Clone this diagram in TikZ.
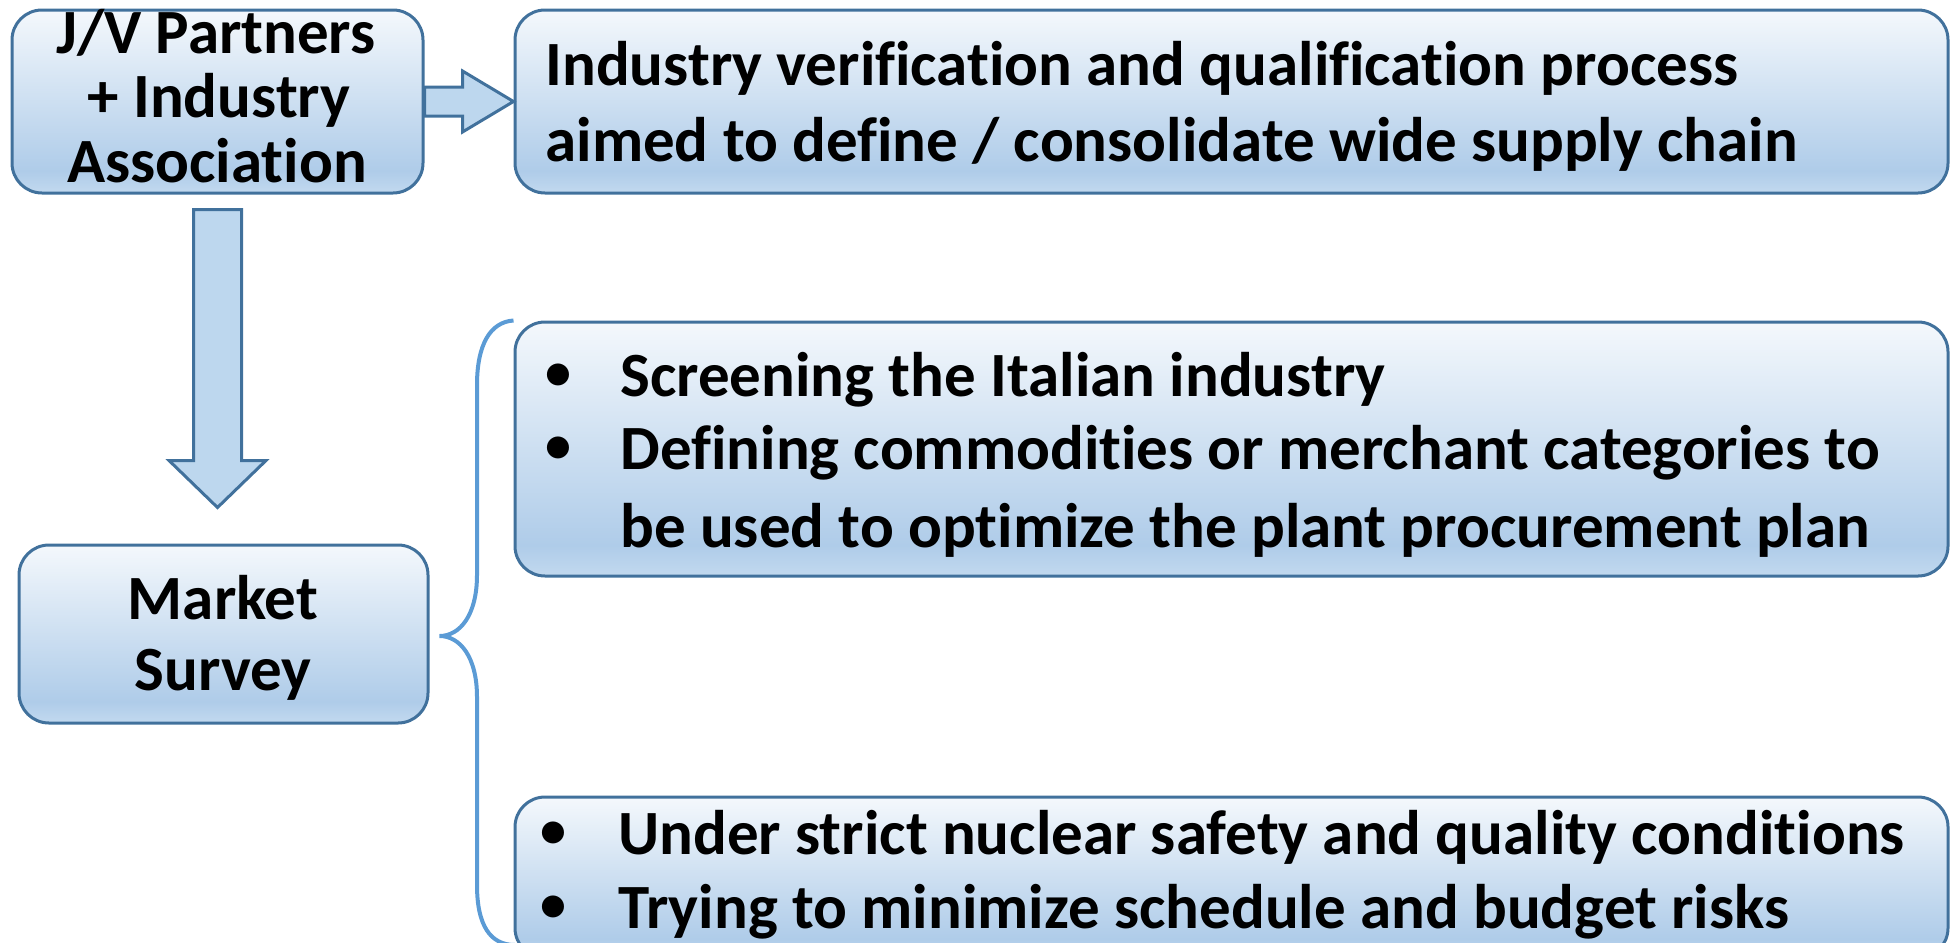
\documentclass[tikz,border=0pt]{standalone}
\usepackage{fontspec}
\setmainfont{Carlito}[RawFeature={-liga}]
\usetikzlibrary{calc}
\definecolor{bordc}{HTML}{41719C}
\definecolor{arrfill}{HTML}{BDD7EE}
\definecolor{bracec}{HTML}{5B9BD5}
\definecolor{gtop}{HTML}{F4F8FC}
\definecolor{gmid}{HTML}{AFCCE9}
\definecolor{gbot}{HTML}{C2D9EF}
\pgfdeclareverticalshading{boxshade}{100bp}{color(0bp)=(gbot); color(25bp)=(gbot); color(31bp)=(gmid); color(75bp)=(gtop); color(100bp)=(gtop)}
\tikzset{
  panel/.style={draw=bordc, line width=1.5pt, rounded corners=15pt, shading=boxshade, inner sep=0pt},
  blockarrow/.style={draw=bordc, fill=arrfill, line width=1.5pt, line join=miter},
  bracestyle/.style={draw=bracec, line width=2pt},
  txt/.style={font=\fontsize{31.5}{36}\selectfont\bfseries, inner sep=0pt, text=black},
  bul/.style={font=\fontsize{26}{30}\selectfont\bfseries, inner sep=0pt, text=black, yshift=3.5pt},
}
\begin{document}
\begin{tikzpicture}[x=0.5pt,y=-0.5pt]
\useasboundingbox (0,0) rectangle (1952,942);
% boxes
\node[panel, minimum width=205.5pt, minimum height=91.5pt] (jv) at (217.5,101.5) {};
\node[panel, minimum width=716.5pt, minimum height=91.5pt] (top) at (1231.5,101.5) {};
\node[panel, minimum width=204.5pt, minimum height=89pt] (mk) at (223.5,634) {};
\node[panel, minimum width=716.5pt, minimum height=127pt] (b2) at (1231.5,449) {};
\node[panel, minimum width=716.5pt, minimum height=80.5pt] (b3) at (1231.5,877.5) {};
% arrows
\draw[blockarrow] ($(jv.east)+(0,-14.5)$) -- ($(jv.east)+(38,-14.5)$) -- ($(jv.east)+(38,-30.5)$)
  -- (top.west) -- ($(jv.east)+(38,30.5)$) -- ($(jv.east)+(38,14.5)$) -- ($(jv.east)+(0,14.5)$) -- cycle;
\draw[blockarrow] ($(jv.south)+(-24,15)$) -- ($(jv.south)+(24,15)$) -- ($(jv.south)+(24,266)$)
  -- ($(jv.south)+(48.5,266)$) -- ($(jv.south)+(0,313)$) -- ($(jv.south)+(-48.5,266)$)
  -- ($(jv.south)+(-24,266)$) -- cycle;
% brace
\coordinate (brtip) at ($(mk.east)+(10,2)$);
\coordinate (brbot) at (515,945);
\draw[bracestyle] (b2.north west) .. controls (490,322) and (477,345) .. (477,385) -- (477,575)
  .. controls (477,615) and (460,636) .. (brtip)
  .. controls (460,636) and (477,657) .. (477,697) -- (477,885)
  .. controls (477,925) and (490,945) .. (brbot);
% texts
\node[txt, anchor=base] (jv1) at (216,53) {J/V Partners};
\node[txt, anchor=base] (jv2) at (219,117) {+ Industry};
\node[txt, anchor=base] (jv3) at (217,182) {Association};
\node[txt, anchor=base west] (tp1) at (545,85) {Industry verification and qualification process};
\node[txt, anchor=base west] (tp2) at (545,161) {aimed to define / consolidate wide supply chain};
\node[txt, anchor=base] (mk1) at (223,619) {Market};
\node[txt, anchor=base] (mk2) at (223,690) {Survey};
\node[bul, anchor=base] (bu1) at (558,396) {•};
\node[bul, anchor=base] (bu2) at (558,469) {•};
\node[txt, anchor=base west] (s1) at (620,396) {Screening the Italian industry};
\node[txt, anchor=base west] (s2) at (620,469) {Defining commodities or merchant categories to};
\node[txt, anchor=base west] (s3) at (620,547) {be used to optimize the plant procurement plan};
\node[bul, anchor=base] (bu3) at (553,854) {•};
\node[bul, anchor=base] (bu4) at (553,928) {•};
\node[txt, anchor=base west] (u1) at (618,854) {Under strict nuclear safety and quality conditions};
\node[txt, anchor=base west] (u2) at (618,928) {Trying to minimize schedule and budget risks};
\end{tikzpicture}
\end{document}
